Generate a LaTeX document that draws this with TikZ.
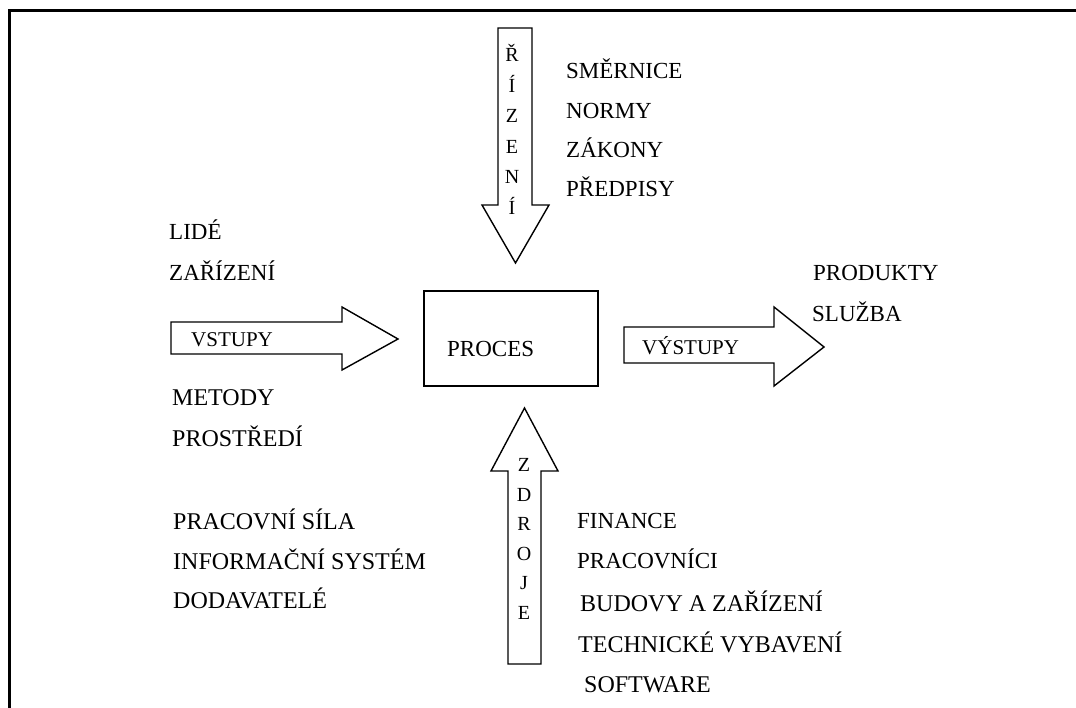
\documentclass[tikz,border=0pt]{standalone}
\usepackage{fontspec}
\setmainfont{Liberation Serif}
\begin{document}
\begin{tikzpicture}[x=1pt,y=-1pt,
  lbl/.style={anchor=base west,inner sep=0pt,font=\fontsize{23}{27}\selectfont},
  biglbl/.style={anchor=base west,inner sep=0pt,font=\fontsize{24}{28}\selectfont},
  albl/.style={anchor=base west,inner sep=0pt,font=\fontsize{21}{25}\selectfont},
  letter/.style={anchor=base,inner sep=0pt,font=\fontsize{20}{23}\selectfont},
  blockarrow/.style={draw,line width=1.4pt,line join=miter,fill=white},
  procbox/.style={draw,line width=1.4pt,minimum width=174pt,minimum height=95pt,inner sep=0pt}]
\useasboundingbox (0,0) rectangle (1076,708);

% page frame (left and top edges)
\draw[line width=3pt] (9.5,708) -- (9.5,10.5) -- (1076,10.5);

% process box
\node[procbox] (proc) at (511,338.5) {};
\node[lbl] (proclbl) at (447,356.5) {PROCES};

% control arrow (down)
\draw[blockarrow] (498,28) -- (532,28) -- (532,205) -- (549,205) -- (515.5,263)
  -- (482,205) -- (498,205) -- cycle;
\foreach \c [count=\i] in {Ř,Í,Z,E,N,Í}
  \node[letter] (r\i) at (512,{55+30.5*(\i-1)+6.6}) {\c};

% resources arrow (up)
\draw[blockarrow] (508,664) -- (541,664) -- (541,471) -- (558,471) -- (524.5,408)
  -- (491,471) -- (508,471) -- cycle;
\foreach \c [count=\i] in {Z,D,R,O,J,E}
  \node[letter] (z\i) at (524,{465+29.5*(\i-1)+6.6}) {\c};

% input arrow
\draw[blockarrow] (171,322) -- (342,322) -- (342,307) -- (398,339) -- (342,370)
  -- (342,354) -- (171,354) -- cycle;
\node[albl] (vstupy) at (191,347) {VSTUPY};

% output arrow
\draw[blockarrow] (624,327) -- (774,327) -- (774,307) -- (824,347) -- (774,386)
  -- (774,363) -- (624,363) -- cycle;
\node[albl] (vystupy) at (642,355) {VÝSTUPY};

% control texts
\node[lbl] (t1) at (566,78.5) {SMĚRNICE};
\node[lbl] (t2) at (566,118.5) {NORMY};
\node[lbl] (t3) at (566,157.5) {ZÁKONY};
\node[lbl] (t4) at (566,196.5) {PŘEDPISY};

% input texts
\node[lbl] (i1) at (169,239.5) {LIDÉ};
\node[lbl] (i2) at (169,280.5) {ZAŘÍZENÍ};
\node[biglbl] (i3) at (172,406) {METODY};
\node[biglbl] (i4) at (172,446) {PROSTŘEDÍ};

% output texts
\node[lbl] (o1) at (813,280.5) {PRODUKTY};
\node[lbl] (o2) at (812,321.5) {SLUŽBA};

% supplier texts
\node[biglbl] (s1) at (173,529) {PRACOVNÍ SÍLA};
\node[biglbl] (s2) at (173,569) {INFORMAČNÍ SYSTÉM};
\node[biglbl] (s3) at (173,608) {DODAVATELÉ};

% resource texts
\node[lbl] (f1) at (577,528.5) {FINANCE};
\node[lbl] (f2) at (577,568.5) {PRACOVNÍCI};
\node[biglbl] (f3) at (580,611) {BUDOVY A ZAŘÍZENÍ};
\node[biglbl] (f4) at (578,652) {TECHNICKÉ VYBAVENÍ};
\node[biglbl] (f5) at (584,692) {SOFTWARE};
\end{tikzpicture}
\end{document}
